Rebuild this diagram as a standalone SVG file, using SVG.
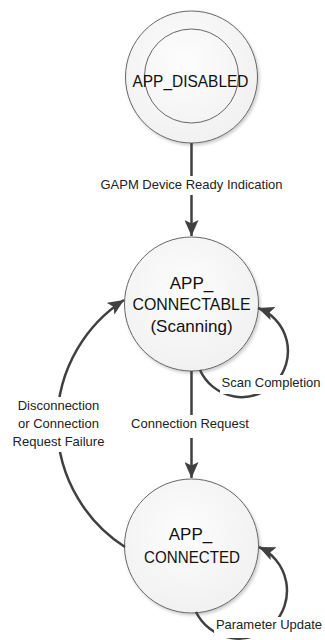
<svg xmlns="http://www.w3.org/2000/svg" width="325" height="640" viewBox="0 0 325 640">
  <style>
    .state { fill: url(#stateFill); stroke: #666666; stroke-width: 1; filter: url(#shadow); }
    .ring { fill: none; stroke: #666666; stroke-width: 1; }
    .name { font-family: "Liberation Sans", Arial, sans-serif; font-size: 17px; fill: #111111; text-anchor: middle; }
    .edge { fill: none; stroke: #404040; stroke-width: 2.5; }
    .label { font-family: "Liberation Sans", Arial, sans-serif; font-size: 13px; fill: #222222; text-anchor: middle; }
    .label-bg { fill: #ffffff; }
  </style>
  <defs>
    <radialGradient id="stateFill" cx="0.45" cy="0.4" r="0.65">
      <stop offset="0" stop-color="#fdfdfd"/>
      <stop offset="1" stop-color="#f0f0f0"/>
    </radialGradient>
    <filter id="shadow" x="-20%" y="-20%" width="150%" height="150%">
      <feDropShadow dx="1.5" dy="2" stdDeviation="1.5" flood-color="#000000" flood-opacity="0.2"/>
    </filter>
    <marker id="arrow" viewBox="0 0 16 14" refX="16" refY="7" markerWidth="16" markerHeight="14" markerUnits="userSpaceOnUse" orient="auto">
      <path d="M0,0 L16,7 L0,14 L3.5,7 Z" fill="#404040"/>
    </marker>
  </defs>

  <!-- states -->
  <g id="app-disabled">
    <circle class="state" cx="191.5" cy="77" r="66"/>
    <circle class="ring" cx="191.5" cy="76" r="47"/>
    <text class="name" x="190.5" y="87" textLength="116" lengthAdjust="spacingAndGlyphs">APP_DISABLED</text>
  </g>

  <g id="app-connectable">
    <circle class="state" cx="191.5" cy="304" r="67"/>
    <text class="name" x="191.5" y="289">APP_</text>
    <text class="name" x="191.5" y="310" textLength="118" lengthAdjust="spacingAndGlyphs">CONNECTABLE</text>
    <text class="name" x="191.5" y="332">(Scanning)</text>
  </g>

  <g id="app-connected">
    <circle class="state" cx="191.5" cy="546" r="67"/>
    <text class="name" x="190.5" y="540">APP_</text>
    <text class="name" x="192" y="563" textLength="96" lengthAdjust="spacingAndGlyphs">CONNECTED</text>
  </g>

  <!-- transitions -->
  <g id="connectors">
    <path class="edge" d="M191.5,143 L191.5,236" marker-end="url(#arrow)"/>
    <path class="edge" d="M200,370 A46,46 0 1 0 258,308" marker-end="url(#arrow)"/>
    <path class="edge" d="M191.5,371 L191.5,478" marker-end="url(#arrow)"/>
    <path class="edge" d="M125,547 A147,147 0 0 1 124,300" marker-end="url(#arrow)"/>
    <path class="edge" d="M196,612 A48,48 0 1 0 259,547" marker-end="url(#arrow)"/>

    <rect class="label-bg" x="96" y="176" width="191" height="19"/>
    <text class="label" x="191.5" y="189">GAPM Device Ready Indication</text>

    <rect class="label-bg" x="220" y="375" width="103" height="19"/>
    <text class="label" x="271" y="387">Scan Completion</text>

    <rect class="label-bg" x="128" y="415" width="124" height="23"/>
    <text class="label" x="190" y="428">Connection Request</text>

    <rect class="label-bg" x="10" y="397" width="97" height="55"/>
    <text class="label" x="58.5" y="410">Disconnection</text>
    <text class="label" x="58.5" y="428">or Connection</text>
    <text class="label" x="58.5" y="446">Request Failure</text>

    <rect class="label-bg" x="214" y="617" width="111" height="21"/>
    <text class="label" x="269" y="629">Parameter Update</text>
  </g>
</svg>
